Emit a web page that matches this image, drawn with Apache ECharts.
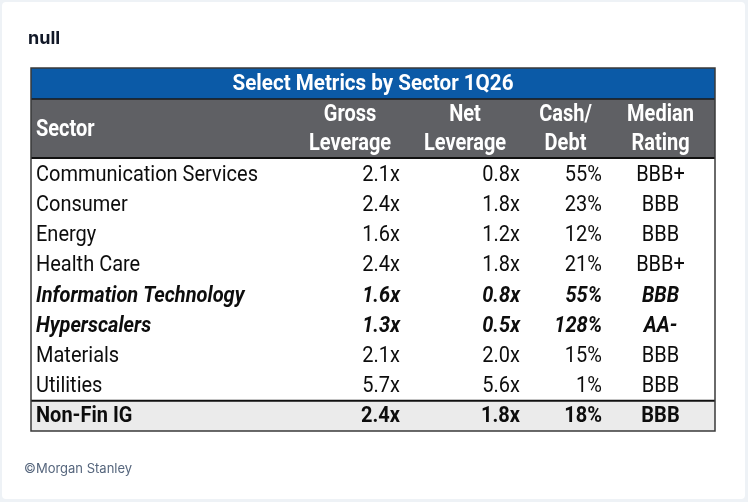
<!DOCTYPE html>
<html><head><meta charset="utf-8">
<script src="https://cdn.jsdelivr.net/npm/echarts@6/dist/echarts.min.js"></script>
<style>
html,body{margin:0;padding:0;background:#eef2f6;width:748px;height:502px;overflow:hidden}
#card{position:absolute;left:2px;top:2px;width:743px;height:497px;background:#fff;border-radius:4px}
#chart{position:absolute;left:0;top:0;width:748px;height:502px}
</style></head><body><div id="card"></div><div id="chart"></div>
<script>
const tableTitle = 'Select Metrics by Sector 1Q26';
const columnHeaders = [['Sector'], ['Gross', 'Leverage'], ['Net', 'Leverage'], ['Cash/', 'Debt'], ['Median', 'Rating']];
const sectors = ['Communication Services', 'Consumer', 'Energy', 'Health Care', 'Information Technology', 'Hyperscalers', 'Materials', 'Utilities', 'Non-Fin IG'];
const grossLeverage = [2.1, 2.4, 1.6, 2.4, 1.6, 1.3, 2.1, 5.7, 2.4];
const netLeverage = [0.8, 1.8, 1.2, 1.8, 0.8, 0.5, 2.0, 5.6, 1.8];
const cashToDebt = [55, 23, 12, 21, 55, 128, 15, 1, 18];
const medianRating = ['BBB+', 'BBB', 'BBB', 'BBB+', 'BBB', 'AA-', 'BBB', 'BBB', 'BBB'];
const rowKind = ['normal', 'normal', 'normal', 'normal', 'italic', 'italic', 'normal', 'normal', 'total'];

// layout
const L = 31, R = 715, TITLE_T = 68, TITLE_B = 99, HEAD_B = 158, BODY_B = 431;
const colEdges = [31, 295, 405, 525, 606, 715];
const FONT = 'Roboto';

const chart = echarts.init(document.getElementById('chart'));

function cellText(x, y, text, align, opts) {
  return {
    type: 'text', x: x, y: y, scaleX: opts.sx || 1, scaleY: opts.sy || 1,
    style: {
      x: 0, y: 0, text: text, align: align, verticalAlign: 'middle',
      fill: opts.fill || '#111', fontFamily: FONT, fontSize: opts.size || 20,
      fontWeight: opts.weight || 'normal', fontStyle: opts.style || 'normal'
    }
  };
}

const headOpts = { fill: '#fff', weight: 'bold', size: 20, sx: 1, sy: 1.15 };
const graphics = [];
// title bar & header background
graphics.push({ type: 'rect', shape: { x: L, y: TITLE_T, width: R - L, height: TITLE_B - TITLE_T }, style: { fill: '#0b5aa7' }, z: 1 });
graphics.push({ type: 'rect', shape: { x: L, y: TITLE_B, width: R - L, height: HEAD_B - TITLE_B }, style: { fill: '#5f6064' }, z: 1 });
graphics.push(cellText((L + R) / 2, (TITLE_T + TITLE_B) / 2 + 1, tableTitle, 'center', { fill: '#fff', weight: 'bold', size: 20, sx: 1.03, sy: 1.12 }));
// header
columnHeaders.forEach(function (lines, c) {
  const hx = c === 0 ? colEdges[0] + 5 : (colEdges[c] + colEdges[c + 1]) / 2;
  const al = c === 0 ? 'left' : 'center';
  if (lines.length === 1) {
    graphics.push(cellText(hx, (TITLE_B + HEAD_B) / 2 + 2, lines[0], al, headOpts));
  } else {
    graphics.push(cellText(hx, TITLE_B + 16, lines[0], al, headOpts));
    graphics.push(cellText(hx, TITLE_B + 45, lines[1], al, headOpts));
  }
});
graphics.forEach(function (g) { if (g.type === 'text') g.z = 5; });
// separators & border
graphics.push({ type: 'line', shape: { x1: L, y1: TITLE_B, x2: R, y2: TITLE_B }, style: { stroke: '#1a1a1a', lineWidth: 1.5 }, z: 50 });
graphics.push({ type: 'line', shape: { x1: L, y1: HEAD_B, x2: R, y2: HEAD_B }, style: { stroke: '#111', lineWidth: 2 }, z: 50 });
graphics.push({ type: 'rect', shape: { x: L, y: TITLE_T, width: R - L, height: BODY_B - TITLE_T }, style: { fill: 'none', stroke: '#3a3a3a', lineWidth: 1.5 }, z: 100 });
// footer
graphics.push({ type: 'text', x: 24, y: 469, style: { text: '\u00A9Morgan Stanley', fontFamily: 'Inter', fontSize: 13, fill: '#56667d', verticalAlign: 'middle' }, z: 5 });

chart.setOption({
  animation: false,
  title: { text: 'null', left: 23, top: 25, textStyle: { fontFamily: 'Inter', fontSize: 18, fontWeight: 'bold', color: '#111827' } },
  grid: { left: L, right: 748 - R, top: HEAD_B + 1, bottom: 502 - BODY_B },
  xAxis: { type: 'value', min: 0, max: 1, show: false },
  yAxis: { type: 'category', data: sectors, inverse: true, show: false },
  graphic: graphics,
  series: [{
    type: 'custom',
    clip: false,
    z: 10,
    data: sectors.map(function (s, i) { return [0, i]; }),
    renderItem: function (params, api) {
      const i = api.value(1);
      const c = api.coord([0, i]);
      const h = api.size([0, 1])[1];
      const yc = c[1];
      const kind = rowKind[i];
      const opts = {
        weight: kind === 'normal' ? 'normal' : 'bold',
        style: kind === 'italic' ? 'italic' : 'normal',
        size: 20, sx: 1, sy: 1.12,
        fill: '#0d0d0d'
      };
      const children = [];
      if (kind === 'total') {
        children.push({ type: 'rect', shape: { x: L, y: yc - h / 2, width: R - L, height: h }, style: { fill: '#ebebeb' } });
        children.push({ type: 'line', shape: { x1: L, y1: yc - h / 2, x2: R, y2: yc - h / 2 }, style: { stroke: '#111', lineWidth: 2 } });
      }
      const ty = yc + 1;
      children.push(cellText(colEdges[0] + 5, ty, sectors[i], 'left', opts));
      children.push(cellText(colEdges[2] - 5, ty, grossLeverage[i].toFixed(1) + 'x', 'right', opts));
      children.push(cellText(colEdges[3] - 5, ty, netLeverage[i].toFixed(1) + 'x', 'right', opts));
      children.push(cellText(colEdges[4] - 4, ty, cashToDebt[i] + '%', 'right', opts));
      children.push(cellText((colEdges[4] + colEdges[5]) / 2, ty, medianRating[i], 'center', opts));
      return { type: 'group', children: children };
    }
  }]
});
</script></body></html>
